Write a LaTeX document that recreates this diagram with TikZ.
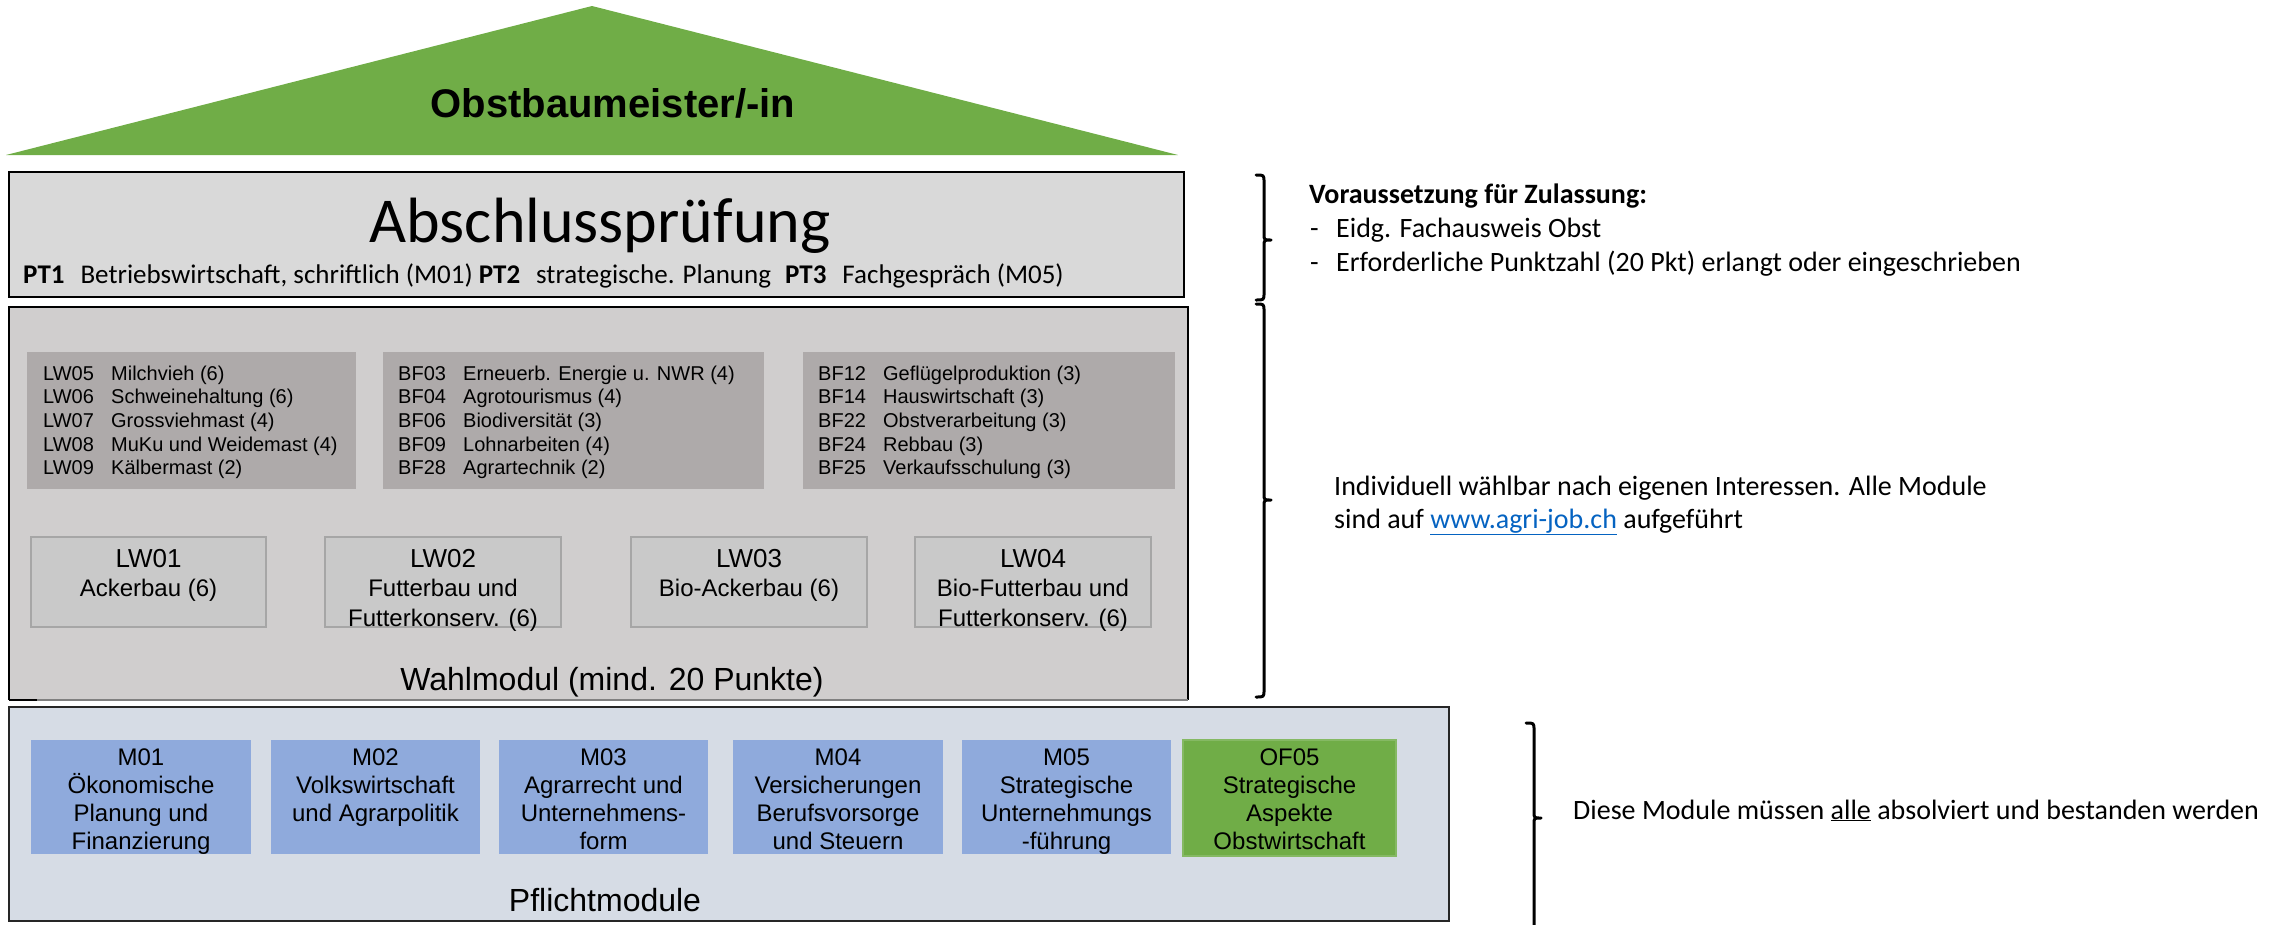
\documentclass[tikz,border=0pt]{standalone}
\usepackage{fontspec}
\setmainfont{Carlito}
\newfontfamily\arialf{Liberation Sans}
\definecolor{roofgreen}{HTML}{70AD47}
\definecolor{examfill}{HTML}{D9D9D9}
\definecolor{wahlfill}{HTML}{D0CECE}
\definecolor{listfill}{HTML}{AEAAAA}
\definecolor{lwfill}{HTML}{C9C9C9}
\definecolor{lwborder}{HTML}{A6A6A6}
\definecolor{pflfill}{HTML}{D6DCE5}
\definecolor{modblue}{HTML}{8FAADC}
\definecolor{linkblue}{HTML}{0563C1}
\tikzset{
  bigbox/.style={rectangle, inner sep=0pt, outer sep=0pt},
  listbox/.style={rectangle, fill=listfill, inner sep=0pt},
  lwbox/.style={rectangle, fill=lwfill, draw=lwborder, line width=1.5pt, inner sep=0pt},
  modbox/.style={rectangle, fill=modblue, inner sep=0pt},
  ofbox/.style={rectangle, fill=roofgreen, draw=roofgreen!85!white, line width=1.5pt, inner sep=0pt},
  listtxt/.style={font=\arialf\fontsize{20}{23.7}\selectfont, inner sep=0pt, anchor=base west},
  modtxt/.style={font=\arialf\fontsize{24}{28}\selectfont, align=center, inner sep=0pt, anchor=north},
  lwtxt/.style={font=\arialf\fontsize{24}{29.5}\selectfont, align=center, inner sep=0pt, anchor=north},
  rooftxt/.style={font=\arialf\bfseries\fontsize{40}{48}\selectfont, inner sep=0pt, anchor=base},
  sectxt/.style={font=\arialf\fontsize{32}{36}\selectfont, inner sep=0pt, anchor=base},
  notetxt/.style={font=\fontsize{28}{33}\selectfont, inner sep=0pt, anchor=base west},
  bracestroke/.style={draw=black, line width=3pt, line cap=round, line join=round},
}
\newcommand\mybrace[4]{%
  \draw[bracestroke] (#1-8,#2) .. controls (#1,#2) .. (#1,#2+7) -- (#1,#3-6)
    .. controls (#1,#3) .. (#1+7,#3) .. controls (#1,#3) .. (#1,#3+6) -- (#1,#4-7)
    .. controls (#1,#4) .. (#1-8,#4);}
\begin{document}
\begin{tikzpicture}[x=1pt,y=-1pt]
\path[use as bounding box] (0,0) rectangle (2284,924);
\clip (0,0) rectangle (2284,924);

% roof
\fill[roofgreen] (6,155) -- (592,6) -- (1178,155) -- cycle;
\node[rooftxt] (title) at (613,117) {Obstbaumeister/-in};

% Abschlusspruefung
\node[bigbox, fill=examfill, draw=black, line width=2pt, minimum width=1175pt, minimum height=125pt] (exam) at (596.5,234.5) {};
\node[font=\fontsize{64}{70}\selectfont, inner sep=0pt, anchor=base] (examtitle) at (600,242) {Abschlussprüfung};
\node[font=\fontsize{27}{30}\selectfont, inner sep=0pt, anchor=base west] (examparts) at (23,283)
  {\textbf{PT1}\hspace{16pt}Betriebswirtschaft, schriftlich (M01) \textbf{PT2}\hspace{16pt}strategische. Planung\hspace{8pt} \textbf{PT3}\hspace{16pt}Fachgespräch (M05)};

% Wahlmodul
\node[bigbox, fill=wahlfill, minimum width=1179pt, minimum height=393pt] (wahl) at (598.5,503.5) {};
\draw[black, line width=2pt] (wahl.south west) -- (wahl.north west) -- (wahl.north east) -- (wahl.south east);
\draw[gray, line width=2pt] (wahl.south west) -- (wahl.south east);
\draw[black, line width=2pt] (wahl.south west) -- ++(28,0);

\node[listbox, minimum width=329pt, minimum height=137pt] (g1) at (191.5,420.5) {};
\node[listbox, minimum width=381pt, minimum height=137pt] (g2) at (573.5,420.5) {};
\node[listbox, minimum width=372pt, minimum height=137pt] (g3) at (989,420.5) {};

\foreach \c/\t [count=\i] in {LW05/Milchvieh (6), LW06/Schweinehaltung (6), LW07/Grossviehmast (4), LW08/MuKu und Weidemast (4), LW09/Kälbermast (2)}
  \node[listtxt] (ga\i) at (43,{380+23.7*(\i-1)}) {\makebox[68pt][l]{\c}\t};
\foreach \c/\t [count=\i] in {BF03/Erneuerb. Energie u. NWR (4), BF04/Agrotourismus (4), BF06/Biodiversität (3), BF09/Lohnarbeiten (4), BF28/Agrartechnik (2)}
  \node[listtxt] (gb\i) at (398,{380+23.7*(\i-1)}) {\makebox[65pt][l]{\c}\t};
\foreach \c/\t [count=\i] in {BF12/Geflügelproduktion (3), BF14/Hauswirtschaft (3), BF22/Obstverarbeitung (3), BF24/Rebbau (3), BF25/Verkaufsschulung (3)}
  \node[listtxt] (gc\i) at (818,{380+23.7*(\i-1)}) {\makebox[65pt][l]{\c}\t};

\node[lwbox, minimum width=235pt, minimum height=90pt] (lw1) at (148.5,582) {};
\node[lwbox, minimum width=236pt, minimum height=90pt] (lw2) at (443,582) {};
\node[lwbox, minimum width=236pt, minimum height=90pt] (lw3) at (749,582) {};
\node[lwbox, minimum width=236pt, minimum height=90pt] (lw4) at (1033,582) {};
\node[lwtxt] (lw1t) at (148.5,549) {{\fontsize{26}{29.5}\selectfont LW01}\\Ackerbau (6)};
\node[lwtxt] (lw2t) at (443,549) {{\fontsize{26}{29.5}\selectfont LW02}\\Futterbau und\\Futterkonserv. (6)};
\node[lwtxt] (lw3t) at (749,549) {{\fontsize{26}{29.5}\selectfont LW03}\\Bio-Ackerbau (6)};
\node[lwtxt] (lw4t) at (1033,549) {{\fontsize{26}{29.5}\selectfont LW04}\\Bio-Futterbau und\\Futterkonserv. (6)};

\node[sectxt] (wahllabel) at (612,690) {Wahlmodul (mind. 20 Punkte)};

% Pflichtmodule
\node[bigbox, fill=pflfill, draw=black!85, line width=2pt, minimum width=1440pt, minimum height=214pt] (pfl) at (729,814) {};
\node[modbox, minimum width=220pt, minimum height=114pt] (m1) at (141,797) {};
\node[modbox, minimum width=209pt, minimum height=114pt] (m2) at (375.5,797) {};
\node[modbox, minimum width=209pt, minimum height=114pt] (m3) at (603.5,797) {};
\node[modbox, minimum width=210pt, minimum height=114pt] (m4) at (838,797) {};
\node[modbox, minimum width=209pt, minimum height=114pt] (m5) at (1066.5,797) {};
\node[ofbox, minimum width=213pt, minimum height=116pt] (of5) at (1289.5,798) {};
\node[modtxt] (m1t) at (141,749) {M01\\Ökonomische\\Planung und\\Finanzierung};
\node[modtxt] (m2t) at (375.5,749) {M02\\Volkswirtschaft\\und Agrarpolitik};
\node[modtxt] (m3t) at (603.5,749) {M03\\Agrarrecht und\\Unternehmens-\\form};
\node[modtxt] (m4t) at (838,749) {M04\\Versicherungen\\Berufsvorsorge\\und Steuern};
\node[modtxt] (m5t) at (1066.5,749) {M05\\Strategische\\Unternehmungs\\-führung};
\node[modtxt] (of5t) at (1289.5,749) {OF05\\Strategische\\Aspekte\\Obstwirtschaft};
\node[sectxt] (pfllabel) at (605,911) {Pflichtmodule};

% braces
\mybrace{1264}{175}{240}{300}
\mybrace{1264}{304}{500}{697}
\mybrace{1534}{723}{818}{940}

% notes
\node[notetxt] (req) at (1309,203) {\textbf{Voraussetzung für Zulassung:}};
\node[notetxt] (req1d) at (1310,237) {-};
\node[notetxt] (req1) at (1336,237) {Eidg. Fachausweis Obst};
\node[notetxt] (req2d) at (1310,271) {-};
\node[notetxt] (req2) at (1336,271) {Erforderliche Punktzahl (20 Pkt) erlangt oder eingeschrieben};
\node[notetxt] (wahlnote1) at (1334,495) {Individuell wählbar nach eigenen Interessen. Alle Module};
\node[notetxt] (wahlnote2) at (1334,528) {sind auf {\color{linkblue}\underline{www.agri-job.ch}} aufgeführt};
\node[notetxt] (pflnote) at (1573,819) {Diese Module müssen \underline{alle} absolviert und bestanden werden};
\end{tikzpicture}
\end{document}
